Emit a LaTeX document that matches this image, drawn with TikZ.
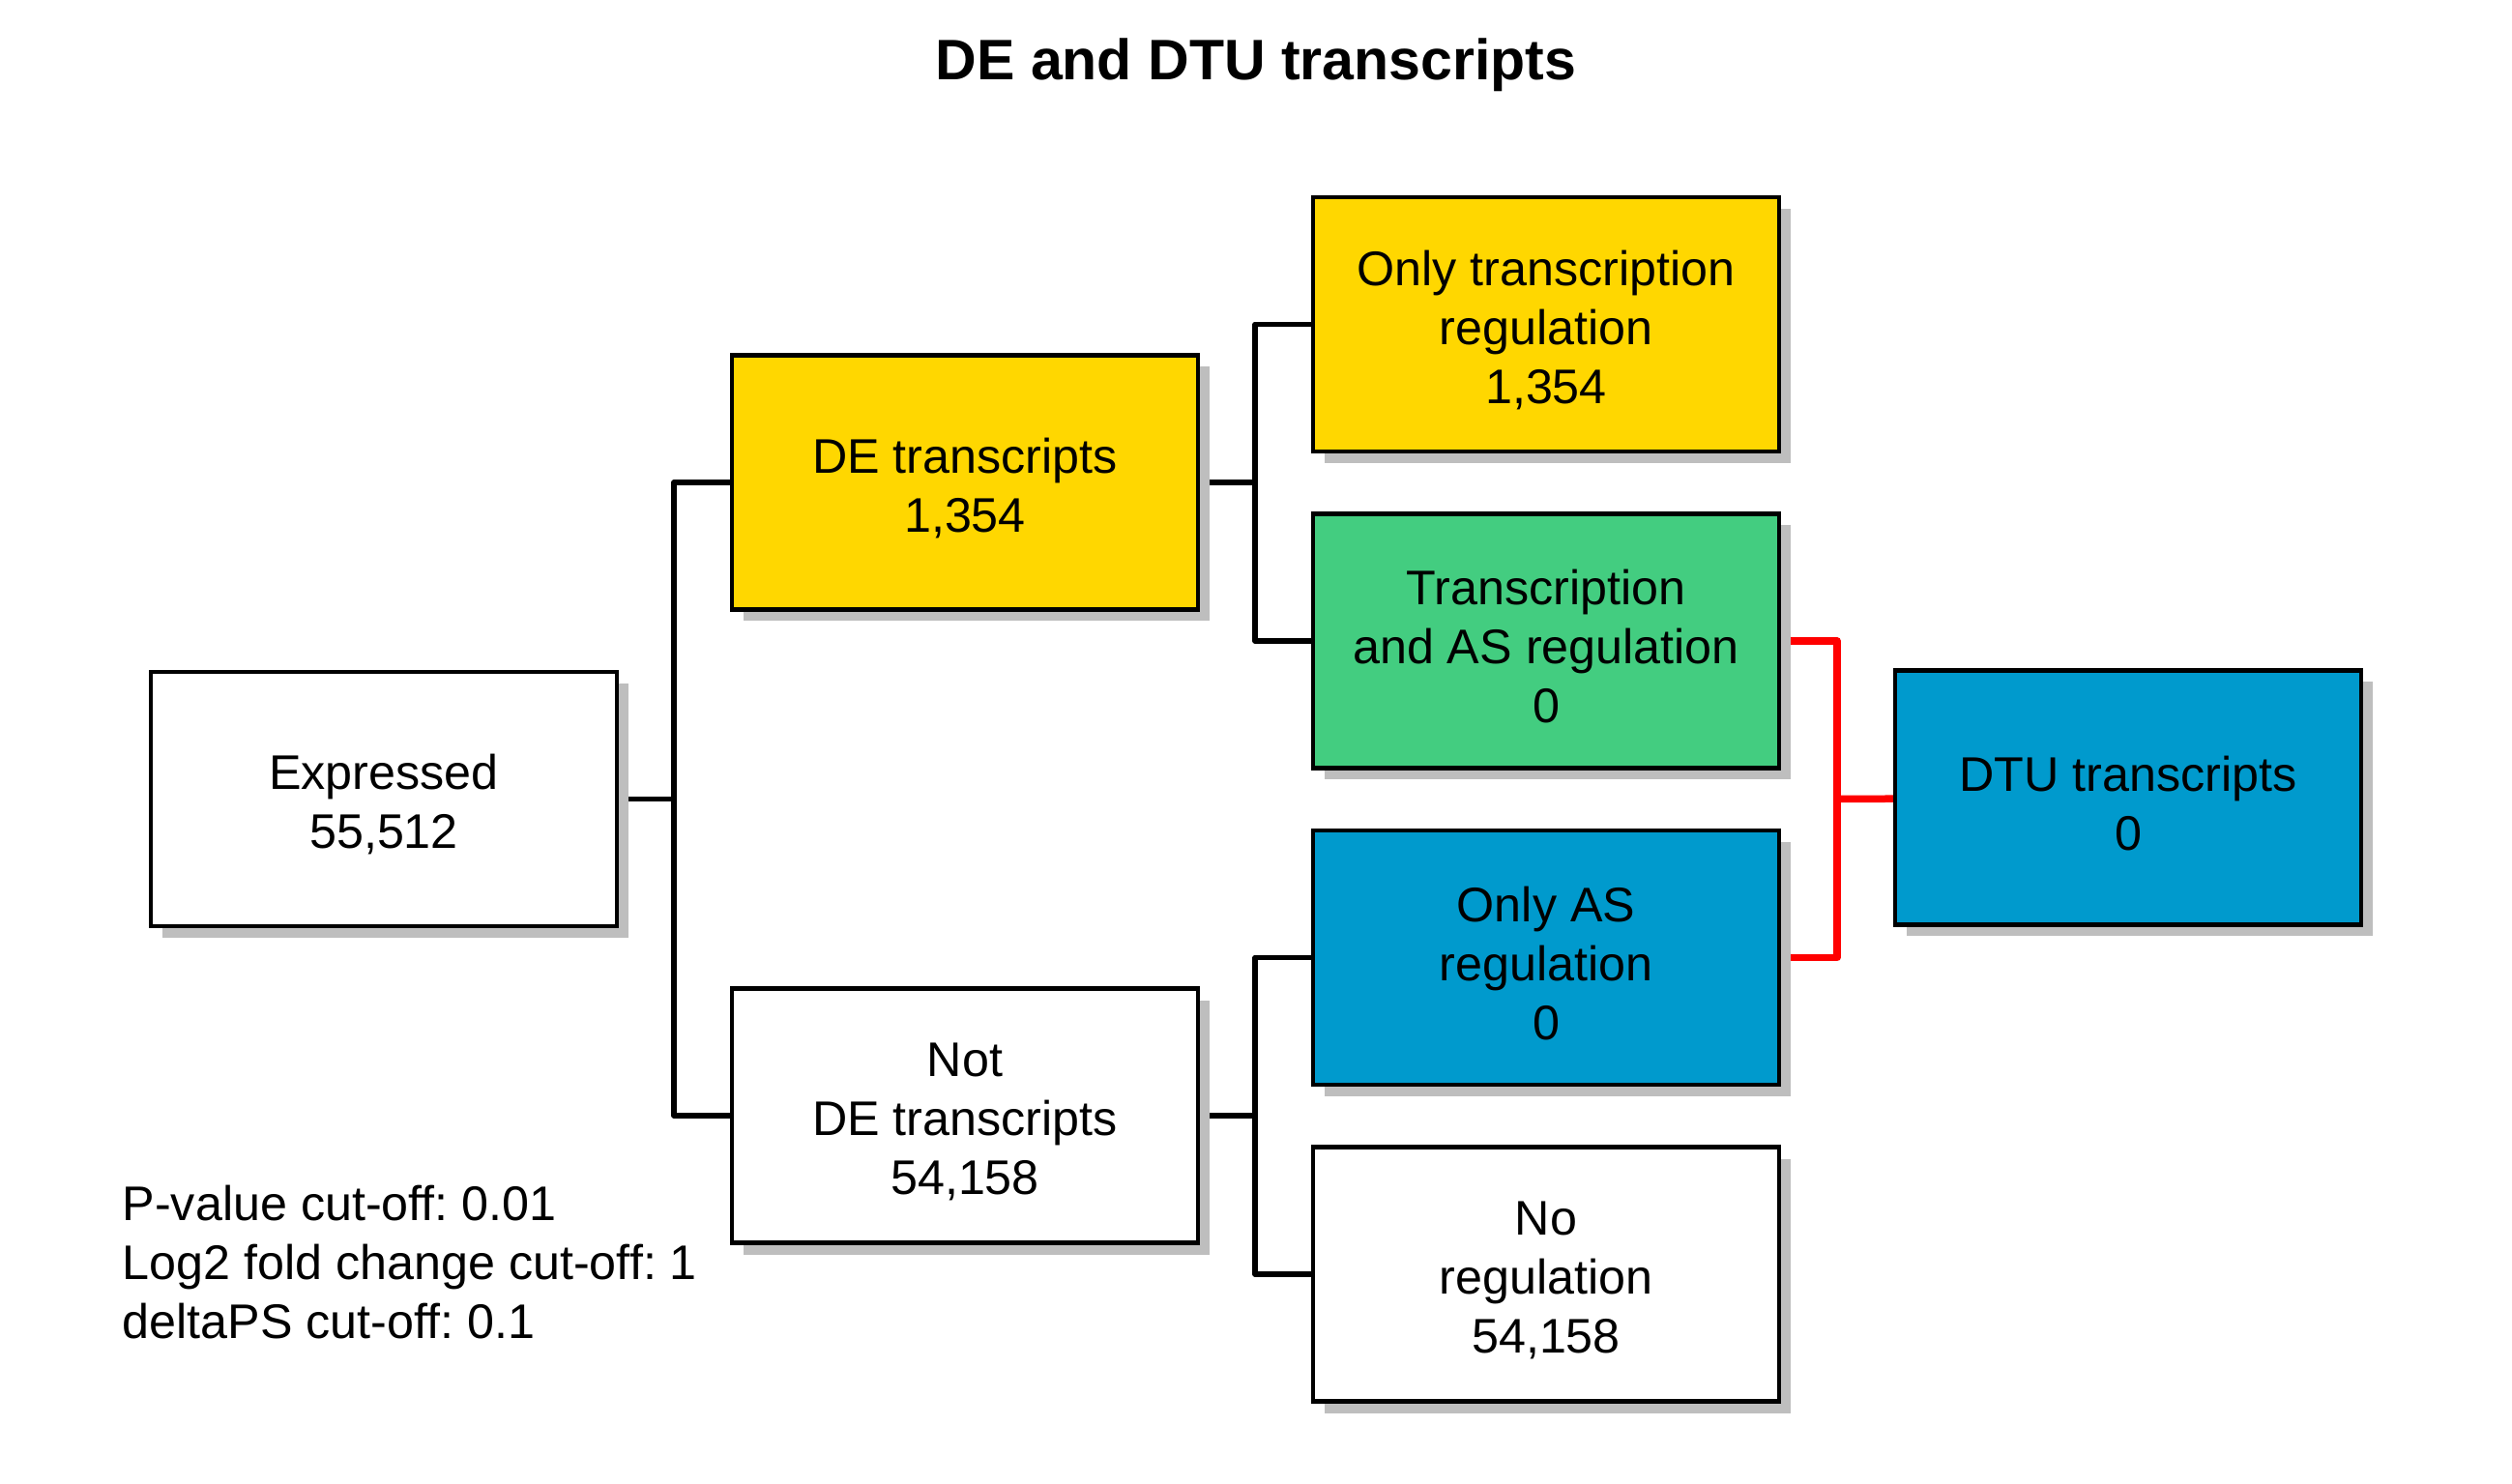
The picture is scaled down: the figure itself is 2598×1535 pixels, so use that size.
\documentclass[tikz,border=0pt]{standalone}
\usepackage{fontspec}
\setmainfont{Liberation Sans}
\usetikzlibrary{shadows,backgrounds}
\definecolor{gold}{HTML}{FFD700}
\definecolor{seagreen}{HTML}{43CD80}
\definecolor{skyblue}{HTML}{009ACD}
\definecolor{shade}{HTML}{BEBEBE}
\newcommand{\topgap}{\rule{0pt}{4.8mm}}
\frenchspacing
\begin{document}
\begin{tikzpicture}[x=0.1mm,y=-0.1mm,
  box/.style={draw, rectangle, fill=white, line width=0.45mm,
    minimum width=48.2mm, minimum height=26.3mm, align=center,
    font=\fontsize{14.3pt}{17.35pt}\selectfont,
    drop shadow={shadow xshift=1.2mm, shadow yshift=-1.2mm, fill=shade, opacity=1}},
  link/.style={line width=0.55mm, line join=round},
  redlink/.style={line width=0.75mm, line join=round, color=red}]
\useasboundingbox (0,0) rectangle (2598,1535);
\node[anchor=base, font=\fontsize{16.8pt}{20pt}\selectfont\bfseries] (0) at (1299,83) {DE and DTU transcripts};
\node[box] (1) at (397,826.5) {\topgap Expressed\\55,512};
\node[box, fill=gold] (2) at (998,499) {\topgap DE transcripts\\1,354};
\node[box] (3) at (998,1154) {\topgap Not\\DE transcripts\\54,158};
\node[box, fill=gold] (4) at (1599,335.5) {\topgap Only transcription\\regulation\\1,354};
\node[box, fill=seagreen] (5) at (1599,663) {\topgap Transcription\\and AS regulation\\0};
\node[box, fill=skyblue] (6) at (1599,990.5) {\topgap Only AS\\regulation\\0};
\node[box] (7) at (1599,1318) {\topgap No\\regulation\\54,158};
\node[box, fill=skyblue] (8) at (2201,825) {\topgap DTU transcripts\\0};
\node[anchor=north west, align=left, inner sep=0pt, font=\fontsize{14.3pt}{17.35pt}\selectfont] (9) at (126,1225) {P-value cut-off: 0.01\\Log2 fold change cut-off: 1\\deltaPS cut-off: 0.1};
\coordinate (a) at (697,826.5);
\coordinate (b) at (1298,499);
\coordinate (c) at (1298,1154);
\coordinate (d) at (1900,826.5);
\begin{pgfonlayer}{background}
\path[draw,link,-] (1) -- (a);
\path[draw,link,-] (a) |- (2);
\path[draw,link,-] (a) |- (3);
\path[draw,link,-] (2) -- (b);
\path[draw,link,-] (b) |- (4);
\path[draw,link,-] (b) |- (5);
\path[draw,link,-] (3) -- (c);
\path[draw,link,-] (c) |- (6);
\path[draw,link,-] (c) |- (7);

\path[draw,redlink,-] (5) -| (d);
\path[draw,redlink,-] (6) -| (d);
\path[draw,redlink,-] (d) -- (8);
\end{pgfonlayer}
\end{tikzpicture}
\end{document}
